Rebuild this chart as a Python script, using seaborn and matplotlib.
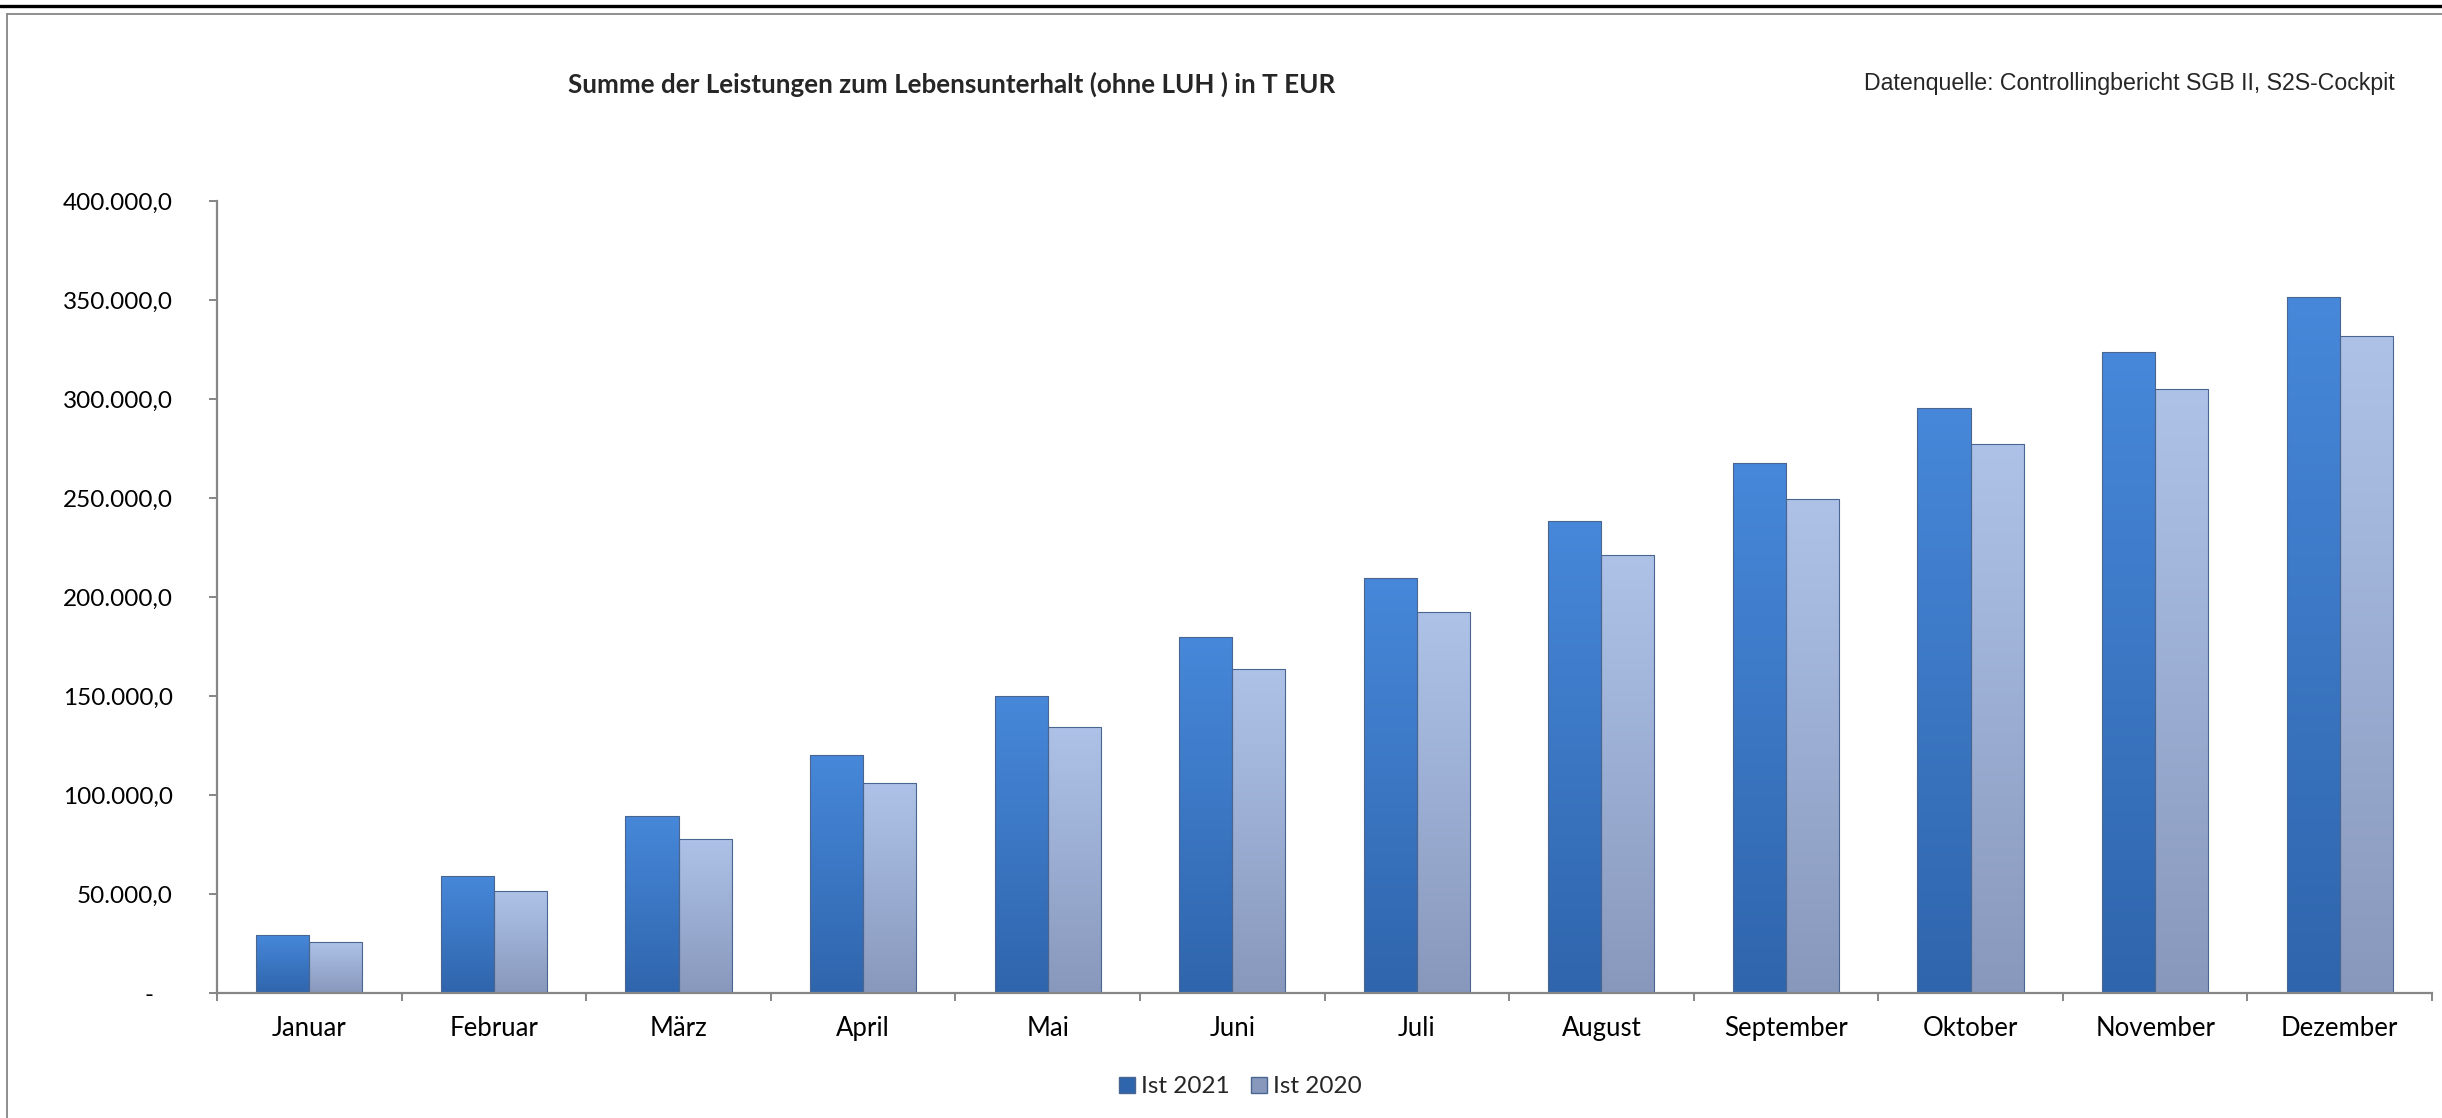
import numpy as np
import pandas as pd
import matplotlib
matplotlib.use("Agg")
import matplotlib.pyplot as plt
import seaborn as sns
from matplotlib.lines import Line2D
from matplotlib.patches import Patch
from matplotlib.ticker import FuncFormatter, FixedLocator

# ================== Daten ==================
MONATE = ["Januar", "Februar", "März", "April", "Mai", "Juni",
          "Juli", "August", "September", "Oktober", "November", "Dezember"]
IST_2021 = [29500, 59400, 89500, 120400, 150200, 180000,
            209800, 238600, 267800, 295600, 324000, 351300]
IST_2020 = [25800, 51600, 77900, 106200, 134500, 163600,
            192400, 221200, 249500, 277400, 305300, 332100]
SERIEN = ["Ist 2021", "Ist 2020"]
TITEL = "Summe der Leistungen zum Lebensunterhalt (ohne LUH ) in T EUR"
QUELLE = "Datenquelle: Controllingbericht SGB II, S2S-Cockpit"
# ==========================================

FARBEN = {"Ist 2021": "#3D7CCB", "Ist 2020": "#A4B8DF"}
VERLAUF = {"Ist 2021": ("#4788DA", "#2F65AC"), "Ist 2020": ("#AEC2E8", "#8898BC")}
ACHSE = "#868686"


def de_format(v, pos):
    if abs(v) < 1e-9:
        return "-   "
    s = f"{v:,.1f}"
    return s.replace(",", "X").replace(".", ",").replace("X", ".")


df = pd.DataFrame({
    "Monat": MONATE * 2,
    "Wert": IST_2021 + IST_2020,
    "Serie": [SERIEN[0]] * len(MONATE) + [SERIEN[1]] * len(MONATE),
})

sns.set_theme(style="white")
plt.rcParams["font.family"] = ["Lato", "DejaVu Sans"]

fig = plt.figure(figsize=(24.42, 11.18), dpi=100)
ax = fig.add_axes([0.0889, 0.1115, 0.9070, 0.7087])

sns.barplot(data=df, x="Monat", y="Wert", hue="Serie", palette=FARBEN,
            width=0.575, saturation=1, legend=False, ax=ax,
            edgecolor="#4A6690", linewidth=0.8)

# Farbverlauf in den Balken
for bar in list(ax.patches):
    fc = matplotlib.colors.to_hex(bar.get_facecolor())
    serie = SERIEN[0] if fc.lower() == FARBEN["Ist 2021"].lower() else SERIEN[1]
    top, bot = VERLAUF[serie]
    bb = bar.get_bbox()
    grad = np.linspace(0, 1, 256).reshape(-1, 1)
    cmap = matplotlib.colors.LinearSegmentedColormap.from_list("g", [top, bot])
    im = ax.imshow(grad, extent=(bb.x0, bb.x1, bb.y0, bb.y1), origin="upper",
                   cmap=cmap, aspect="auto", zorder=bar.get_zorder() + 0.1)
    im.set_clip_path(bar)
    bar.set_facecolor("none")
    bar.set_zorder(bar.get_zorder() + 0.2)

ax.set_xlim(-0.5, len(MONATE) - 0.5)
ax.set_ylim(0, 400000)
ax.set_yticks(np.arange(0, 400001, 50000))
ax.yaxis.set_major_formatter(FuncFormatter(de_format))
ax.xaxis.set_minor_locator(FixedLocator(np.arange(-0.5, len(MONATE), 1.0)))

ax.set_xlabel("")
ax.set_ylabel("")
for side in ["top", "right"]:
    ax.spines[side].set_visible(False)
for side in ["left", "bottom"]:
    ax.spines[side].set_color(ACHSE)
    ax.spines[side].set_linewidth(1.6)

ax.tick_params(axis="y", which="major", left=True, length=6, width=1.4,
               color=ACHSE, direction="out", pad=26, labelsize=17.5,
               labelcolor="black")
ax.tick_params(axis="x", which="major", bottom=False, length=0, pad=16,
               labelsize=18.5, labelcolor="black")
ax.tick_params(axis="x", which="minor", bottom=True, length=6, width=1.4,
               color=ACHSE, direction="out")

# Legende
handles = [Patch(facecolor=VERLAUF[s][1], edgecolor="#4A6690", label=s) for s in SERIEN]
fig.legend(handles=handles, loc="center", bbox_to_anchor=(0.508, 0.028), ncol=2,
           frameon=False, fontsize=17.5, handlelength=0.65, handleheight=0.65,
           handletextpad=0.25, columnspacing=0.9)

# Titel und Quelle
fig.text(0.3895, 0.925, TITEL, ha="center", va="center", fontsize=18.7,
         fontweight="bold")
fig.text(0.9805, 0.925, QUELLE, ha="right", va="center", fontsize=16.7,
         family=["Liberation Sans", "DejaVu Sans"])

# Rahmen
fig.add_artist(Line2D([0, 1], [0.9942, 0.9942], transform=fig.transFigure,
                      color="black", linewidth=2.4))
fig.add_artist(Line2D([0.00275, 1], [0.9872, 0.9872], transform=fig.transFigure,
                      color=ACHSE, linewidth=1.3))
fig.add_artist(Line2D([0.00275, 0.00275], [0, 0.9872], transform=fig.transFigure,
                      color=ACHSE, linewidth=1.3))

fig.savefig("out.png", dpi=100, facecolor="white")
